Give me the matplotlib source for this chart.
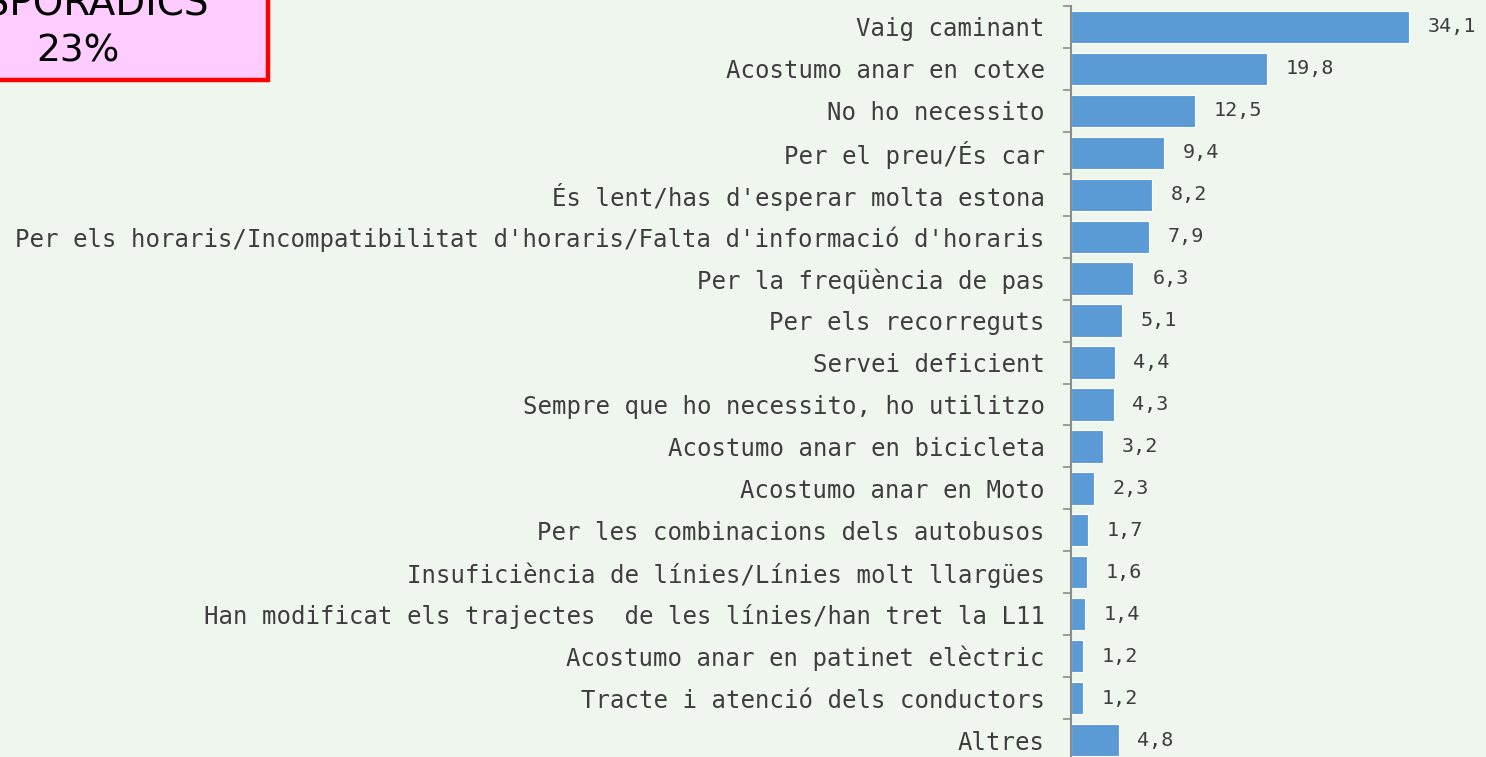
import matplotlib
matplotlib.use("Agg")
import matplotlib.pyplot as plt
from matplotlib.patches import Rectangle
import numpy as np

categories = [
    "Vaig caminant",
    "Acostumo anar en cotxe",
    "No ho necessito",
    "Per el preu/És car",
    "És lent/has d'esperar molta estona",
    "Per els horaris/Incompatibilitat d'horaris/Falta d'informació d'horaris",
    "Per la freqüència de pas",
    "Per els recorreguts",
    "Servei deficient",
    "Sempre que ho necessito, ho utilitzo",
    "Acostumo anar en bicicleta",
    "Acostumo anar en Moto",
    "Per les combinacions dels autobusos",
    "Insuficiència de línies/Línies molt llargües",
    "Han modificat els trajectes  de les línies/han tret la L11",
    "Acostumo anar en patinet elèctric",
    "Tracte i atenció dels conductors",
    "Altres",
]
values = [34.1, 19.8, 12.5, 9.4, 8.2, 7.9, 6.3, 5.1, 4.4, 4.3, 3.2, 2.3, 1.7, 1.6, 1.4, 1.2, 1.2, 4.8]
box_title = "ESPORÀDICS"
box_value = "23%"

BG = "#eff6ed"
TXT = "#3d3d3d"
FONT = "DejaVu Sans Mono"
W, H = 1486, 757
fig = plt.figure(figsize=(W / 100, H / 100), dpi=100, facecolor=BG)

ax_left, ax_right = 1071 / W, 1.0
ax_top, ax_bot = 1 - 6 / H, 1 - 761 / H
ax = fig.add_axes([ax_left, ax_bot, ax_right - ax_left, ax_top - ax_bot])
ax.set_facecolor(BG)

n = len(categories)
y = np.arange(n)
ax.barh(y, values, height=0.77, color="#5b9bd5", edgecolor="white", linewidth=0.8)
ax.set_ylim(n - 0.5, -0.5)
ax.set_xlim(0, (W - 1071) / 9.91)

for yi, v in zip(y, values):
    ax.text(v + 1.9, yi, f"{v:.1f}".replace(".", ","), va="center", ha="left",
            fontsize=14.5, color=TXT, family=FONT)

ax.set_yticks(y)
ax.set_yticklabels(categories, fontsize=17.3, color=TXT, family=FONT)
ax.tick_params(axis="y", which="major", length=0, pad=19)
ax.set_yticks(np.arange(-0.5, n, 1.0), minor=True)
ax.tick_params(axis="y", which="minor", length=6, width=1.2, color="#8c8c8c", direction="out")
ax.set_xticks([])
for s in ["top", "right", "bottom"]:
    ax.spines[s].set_visible(False)
ax.spines["left"].set_color("#8c8c8c")
ax.spines["left"].set_linewidth(1.5)

# Box top-left
bx0, bx1 = -60 / W, 268 / W
by0, by1 = 1 - 80 / H, 1 + 40 / H
rect = Rectangle((bx0, by0), bx1 - bx0, by1 - by0, transform=fig.transFigure,
                 facecolor="#ffccff", edgecolor="#ff0000", linewidth=3.2, zorder=5)
fig.patches.append(rect)
fig.text(78 / W, 1 - 62 / H, box_value, ha="center", va="baseline", fontsize=27,
         color="black", family="DejaVu Sans", zorder=6)
fig.text(84 / W, 1 - 15 / H, box_title, ha="center", va="baseline", fontsize=28,
         color="black", family="DejaVu Sans", zorder=6)

fig.savefig("out.png", dpi=100, facecolor=BG)
